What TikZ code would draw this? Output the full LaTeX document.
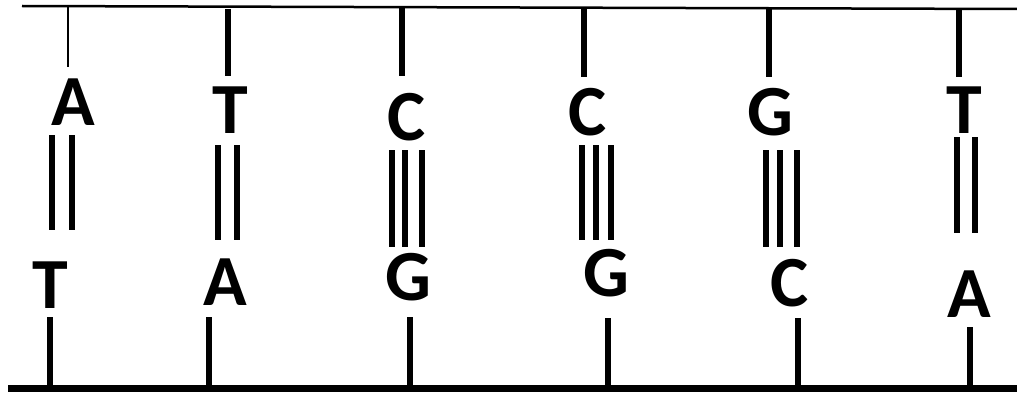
\documentclass[tikz,border=0pt]{standalone}
\usepackage{fontspec}
\setmainfont{Carlito}
\begin{document}
\begin{tikzpicture}[x=1pt,y=-1pt,
  base/.style={font=\fontsize{72}{80}\selectfont\bfseries, inner sep=0pt, anchor=base},
  stick/.style={line width=6.5pt},
  bond/.style={line width=6pt},
  backbone/.style={line width=2.5pt}]
\useasboundingbox (0,0) rectangle (1017,396);
% backbones
\coordinate (tl) at (22,6);
\coordinate (tr) at (1017,9);
\coordinate (bl) at (8,388);
\coordinate (br) at (1017,388);
\draw[backbone] (tl) -- (tr);
\draw[line width=7pt] (bl) -- (br);
% column 1: A = T
\node[base] (a1) at (73,125) {A};
\node[base] (b1) at (50,308) {T};
\draw[line width=2.2pt] (68,6) -- (68,67);
\draw[bond] (52,135) -- (52,230) (72,135) -- (72,230);
\draw[stick] (50,317) -- (50,388);
% column 2: T = A
\node[base] (a2) at (230,133) {T};
\node[base] (b2) at (225,305) {A};
\draw[stick] (228,9) -- (228,76);
\draw[bond] (218,145) -- (218,240) (237,145) -- (237,240);
\draw[stick] (209,317) -- (209,388);
% column 3: C = G
\node[base] (a3) at (407,140) {C};
\node[base] (b3) at (408,300) {G};
\draw[stick] (402,7) -- (402,76);
\draw[bond] (392,150) -- (392,247) (405,150) -- (405,247) (422,150) -- (422,247);
\draw[stick] (410,317) -- (410,388);
% column 4: C = G
\node[base] (a4) at (588,135) {C};
\node[base] (b4) at (606,296) {G};
\draw[stick] (584,8) -- (584,77);
\draw[bond] (582,145) -- (582,240) (596,145) -- (596,240) (611,145) -- (611,240);
\draw[stick] (608,318) -- (608,388);
% column 5: G = C
\node[base] (a5) at (770,135) {G};
\node[base] (b5) at (790,306) {C};
\draw[stick] (769,8) -- (769,77);
\draw[bond] (766,150) -- (766,247) (780,150) -- (780,247) (797,150) -- (797,247);
\draw[stick] (798,318) -- (798,388);
% column 6: T = A
\node[base] (a6) at (964,133) {T};
\node[base] (b6) at (969,317) {A};
\draw[stick] (959,9) -- (959,77);
\draw[bond] (957,137) -- (957,233) (975,137) -- (975,233);
\draw[stick] (970,327) -- (970,388);
\end{tikzpicture}
\end{document}
